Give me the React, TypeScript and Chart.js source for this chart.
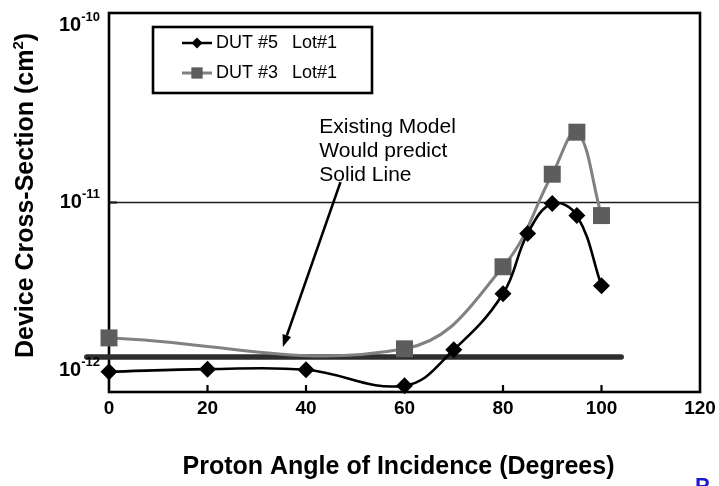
import React, { useEffect, useRef } from "react";
import { Chart, registerables } from "chart.js";

Chart.register(...registerables);

const FONT = '"Liberation Sans", Arial, Helvetica, sans-serif';

// DUT #5, Lot#1 — cross-section (cm²) vs. proton angle (degrees)
const dut5Angles = [0, 20, 40, 60, 70, 80, 85, 90, 95, 100];
const dut5CrossSection = [1.28e-12, 1.32e-12, 1.31e-12, 1.08e-12, 1.67e-12, 3.3e-12, 6.86e-12, 9.88e-12, 8.53e-12, 3.64e-12];

// DUT #3, Lot#1
const dut3Angles = [0, 60, 80, 90, 95, 100];
const dut3CrossSection = [1.93e-12, 1.69e-12, 4.58e-12, 1.41e-11, 2.35e-11, 8.53e-12];

// Flat prediction of the existing model
const modelAngles = [-4.5, 104];
const modelCrossSection = [1.53e-12, 1.53e-12];

// Axis ticks
const xTickValues = [0, 20, 40, 60, 80, 100, 120];
const yTickExponents = [-10, -11, -12];

// Text
const seriesNames = ["DUT #5", "DUT #3"];
const lotLabel = "Lot#1";
const noteLines = ["Existing Model", "Would predict", "Solid Line"];
const xTitle = "Proton Angle of Incidence (Degrees)";
const yTitleMain = "Device Cross-Section (cm";
const yTitleSup = "2";
const yTitleEnd = ")";
const footerFragment = "P";

// Callout: text anchor (first baseline) and arrow, in data units
const noteAnchor = { x: 42.7, y: 2.32e-11 };
const arrowFrom = { x: 47.0, y: 1.28e-11 };
const arrowTo = { x: 35.3, y: 1.73e-12 };

const BLACK = "#000000";
const GREY_LINE = "#818181";
const GREY_MARK = "#5d5d5d";
const MODEL = "#2e2e2e";

function toPoints(xs: number[], ys: number[]) {
  return xs.map((x, i) => ({ x, y: ys[i] }));
}

const decorPlugin = {
  id: "decor",
  beforeDatasetsDraw(chart: any) {
    const { ctx, chartArea: a, scales } = chart;
    const xs = scales.x;
    const ys = scales.y;
    ctx.save();
    // major gridline at each inner decade
    ctx.strokeStyle = "#1e1e1e";
    ctx.lineWidth = 1.6;
    yTickExponents.forEach((e) => {
      const py = ys.getPixelForValue(Math.pow(10, e));
      if (py > a.top + 2 && py < a.bottom - 2) {
        ctx.beginPath();
        ctx.moveTo(a.left, py);
        ctx.lineTo(a.right, py);
        ctx.stroke();
        ctx.beginPath();
        ctx.lineWidth = 2.2;
        ctx.moveTo(a.left, py);
        ctx.lineTo(a.left + 8, py);
        ctx.stroke();
      }
    });
    // plot frame
    ctx.strokeStyle = BLACK;
    ctx.lineWidth = 2.6;
    ctx.strokeRect(a.left, a.top, a.right - a.left, a.bottom - a.top);
    // inward x tick marks
    ctx.lineWidth = 2.2;
    xTickValues.forEach((v) => {
      const px = xs.getPixelForValue(v);
      if (px > a.left + 2 && px < a.right - 2) {
        ctx.beginPath();
        ctx.moveTo(px, a.bottom);
        ctx.lineTo(px, a.bottom - 7);
        ctx.stroke();
      }
    });
    ctx.restore();
  },
  afterDraw(chart: any) {
    const { ctx, chartArea: a, scales } = chart;
    const xs = scales.x;
    const ys = scales.y;
    ctx.save();
    ctx.fillStyle = BLACK;

    // x tick labels
    ctx.font = `bold 19px ${FONT}`;
    ctx.textAlign = "center";
    ctx.textBaseline = "middle";
    xTickValues.forEach((v) => {
      ctx.fillText(String(v), xs.getPixelForValue(v), a.bottom + 17);
    });

    // y tick labels, 10 with superscript exponent
    ctx.textAlign = "left";
    yTickExponents.forEach((e) => {
      const py = ys.getPixelForValue(Math.pow(10, e));
      const cy = Math.min(Math.max(py, a.top + 12), a.bottom - 22);
      ctx.font = `bold 20px ${FONT}`;
      const wb = ctx.measureText("10").width;
      ctx.font = `bold 13px ${FONT}`;
      const sup = String(e);
      const ws = ctx.measureText(sup).width;
      const x0 = a.left - 9 - wb - ws;
      ctx.font = `bold 20px ${FONT}`;
      ctx.fillText("10", x0, cy);
      ctx.font = `bold 13px ${FONT}`;
      ctx.fillText(sup, x0 + wb, cy - 8);
    });

    // x axis title
    ctx.font = `bold 25px ${FONT}`;
    ctx.textAlign = "center";
    ctx.textBaseline = "middle";
    ctx.fillText(xTitle, (a.left + a.right) / 2 - 6, a.bottom + 75);

    // y axis title (rotated, with superscript)
    ctx.save();
    ctx.translate(33, (a.top + a.bottom) / 2 - 7);
    ctx.rotate(-Math.PI / 2);
    ctx.textAlign = "left";
    ctx.textBaseline = "alphabetic";
    ctx.font = `bold 25px ${FONT}`;
    const w1 = ctx.measureText(yTitleMain).width;
    const w3 = ctx.measureText(yTitleEnd).width;
    ctx.font = `bold 15px ${FONT}`;
    const w2 = ctx.measureText(yTitleSup).width;
    let tx = -(w1 + w2 + w3) / 2;
    ctx.font = `bold 25px ${FONT}`;
    ctx.fillText(yTitleMain, tx, 0);
    tx += w1;
    ctx.font = `bold 15px ${FONT}`;
    ctx.fillText(yTitleSup, tx, -10);
    tx += w2;
    ctx.font = `bold 25px ${FONT}`;
    ctx.fillText(yTitleEnd, tx, 0);
    ctx.restore();

    // legend box
    const lx = a.left + 44;
    const ly = a.top + 14;
    ctx.strokeStyle = BLACK;
    ctx.lineWidth = 2.6;
    ctx.strokeRect(lx, ly, 219, 66);
    ctx.font = `18px ${FONT}`;
    ctx.textAlign = "left";
    ctx.textBaseline = "middle";
    const rows = [
      { name: seriesNames[0], line: BLACK, mark: BLACK, style: "rectRot", r: 5.5, y: ly + 16 },
      { name: seriesNames[1], line: GREY_LINE, mark: GREY_MARK, style: "rect", r: 8, y: ly + 46 },
    ];
    rows.forEach((row) => {
      ctx.strokeStyle = row.line;
      ctx.lineWidth = row.style === "rect" ? 3 : 2.5;
      ctx.beginPath();
      ctx.moveTo(lx + 29, row.y);
      ctx.lineTo(lx + 59, row.y);
      ctx.stroke();
      ctx.fillStyle = row.mark;
      ctx.beginPath();
      const cx = lx + 44;
      if (row.style === "rectRot") {
        ctx.moveTo(cx, row.y - row.r);
        ctx.lineTo(cx + row.r, row.y);
        ctx.lineTo(cx, row.y + row.r);
        ctx.lineTo(cx - row.r, row.y);
        ctx.closePath();
      } else {
        const h = row.r * Math.SQRT1_2;
        ctx.rect(cx - h, row.y - h, 2 * h, 2 * h);
      }
      ctx.fill();
      ctx.fillStyle = BLACK;
      ctx.fillText(row.name, lx + 63, row.y);
      ctx.fillText(lotLabel, lx + 139, row.y);
    });

    // callout text
    const nx = xs.getPixelForValue(noteAnchor.x);
    const ny = ys.getPixelForValue(noteAnchor.y);
    ctx.font = `21px ${FONT}`;
    ctx.textBaseline = "alphabetic";
    noteLines.forEach((t, i) => ctx.fillText(t, nx, ny + i * 24));

    // callout arrow
    const x1 = xs.getPixelForValue(arrowFrom.x);
    const y1 = ys.getPixelForValue(arrowFrom.y);
    const x2 = xs.getPixelForValue(arrowTo.x);
    const y2 = ys.getPixelForValue(arrowTo.y);
    const ang = Math.atan2(y2 - y1, x2 - x1);
    const headLen = 12;
    const headHalf = 4.5;
    const bx = x2 - headLen * Math.cos(ang);
    const by = y2 - headLen * Math.sin(ang);
    ctx.strokeStyle = BLACK;
    ctx.lineWidth = 2.6;
    ctx.beginPath();
    ctx.moveTo(x1, y1);
    ctx.lineTo(bx, by);
    ctx.stroke();
    ctx.beginPath();
    ctx.moveTo(x2, y2);
    ctx.lineTo(bx + headHalf * Math.sin(ang), by - headHalf * Math.cos(ang));
    ctx.lineTo(bx - headHalf * Math.sin(ang), by + headHalf * Math.cos(ang));
    ctx.closePath();
    ctx.fill();

    // fragment of the next line of text at the bottom edge
    ctx.fillStyle = "#1c1ccc";
    ctx.font = `bold 22px ${FONT}`;
    ctx.textBaseline = "top";
    ctx.fillText(footerFragment, a.right - 5, a.bottom + 84);

    ctx.restore();
  },
};

export default function App() {
  const canvasRef = useRef<HTMLCanvasElement | null>(null);

  useEffect(() => {
    document.body.style.margin = "0";
    document.body.style.background = "#ffffff";
    const canvas = canvasRef.current;
    if (!canvas) return;
    const chart = new Chart(canvas, {
      type: "line",
      data: {
        datasets: [
          {
            label: `${seriesNames[0]} ${lotLabel}`,
            data: toPoints(dut5Angles, dut5CrossSection),
            borderColor: BLACK,
            backgroundColor: BLACK,
            borderWidth: 2.6,
            tension: 0.4,
            pointStyle: "rectRot",
            pointRadius: 8.5,
            pointBorderWidth: 0,
            order: 1,
          },
          {
            label: `${seriesNames[1]} ${lotLabel}`,
            data: toPoints(dut3Angles, dut3CrossSection),
            borderColor: GREY_LINE,
            backgroundColor: GREY_MARK,
            pointBorderColor: GREY_MARK,
            borderWidth: 3,
            tension: 0.4,
            pointStyle: "rect",
            pointRadius: 12,
            pointBorderWidth: 0,
            order: 2,
          },
          {
            label: "Existing model",
            data: toPoints(modelAngles, modelCrossSection),
            borderColor: MODEL,
            borderWidth: 5.5,
            borderCapStyle: "round",
            pointRadius: 0,
            tension: 0,
            order: 3,
          },
        ],
      },
      options: {
        responsive: false,
        animation: false,
        clip: false,
        layout: { padding: { left: 109, right: 19, top: 13, bottom: 94 } },
        plugins: {
          legend: { display: false },
          tooltip: { enabled: false },
        },
        scales: {
          x: { type: "linear", min: 0, max: 120, display: false },
          y: { type: "logarithmic", min: 1e-12, max: 1e-10, display: false },
        },
      } as any,
      plugins: [decorPlugin],
    });
    return () => chart.destroy();
  }, []);

  return (
    <canvas
      ref={canvasRef}
      width={719}
      height={486}
      style={{ display: "block", width: 719, height: 486 }}
    />
  );
}
